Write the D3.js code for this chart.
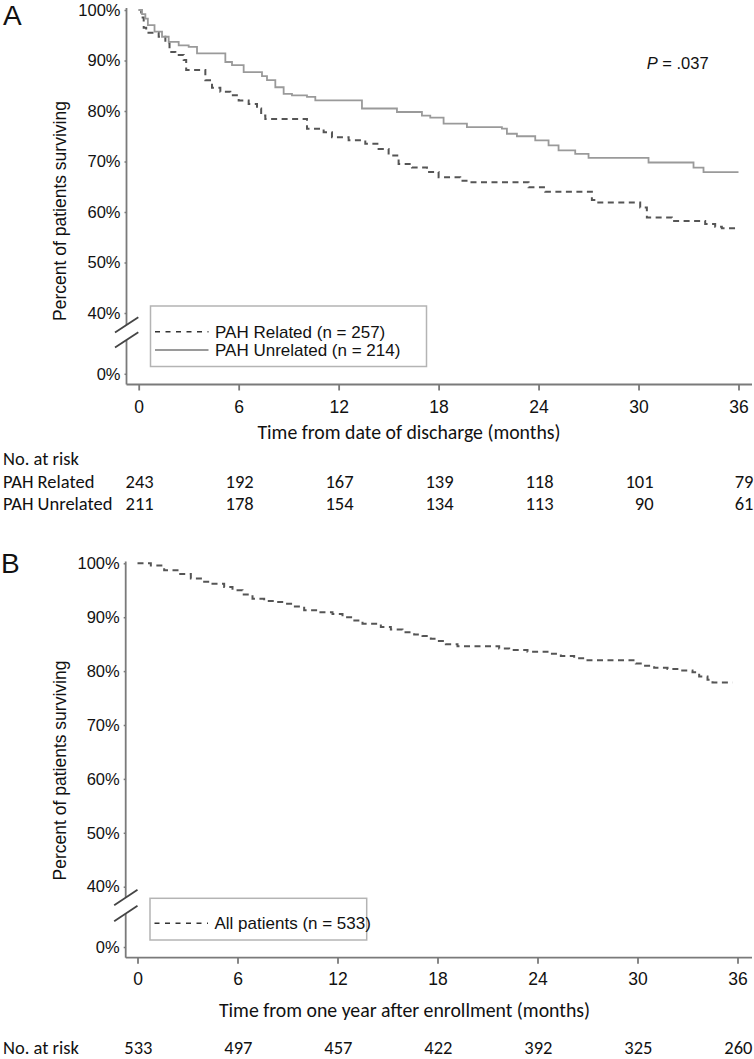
<!DOCTYPE html>
<html>
<head>
<meta charset="utf-8">
<script src="https://cdn.jsdelivr.net/npm/d3@7"></script>
<style>
  html, body { margin: 0; padding: 0; background: #fff; }
  svg { display: block; }
</style>
</head>
<body>
<svg id="chart" width="754" height="1059"></svg>
<script>
// ---------------- DATA ----------------
const monthTicks = [0, 6, 12, 18, 24, 30, 36];
const yTickValues = [0, 40, 50, 60, 70, 80, 90, 100];

// Panel A: PAH related (dashed)
const relatedTimes = [0, 0.15, 0.3, 0.45, 1.2, 1.6, 1.85, 2.2, 2.7, 2.85, 4.0, 4.4, 4.9, 5.5, 6.0, 6.6, 7.1, 7.35, 7.6,
  10.1, 11.1, 11.6, 12.6, 13.6, 14.4, 15.0, 15.6, 16.4, 17.3, 18.0, 19.3, 19.8, 23.4, 24.4, 27.2, 27.5, 30.1, 30.5,
  32.0, 34.0, 34.6, 35.0, 36.0];
const relatedSurv = [100, 98.5, 96.5, 95.5, 94.7, 93.4, 91.7, 91.1, 90.1, 88.1, 86.1, 84.6, 83.8, 83.1, 82.1, 81.4, 80.5, 79.1, 78.4,
  76.5, 75.8, 74.8, 74.2, 73.5, 72.5, 71.2, 69.5, 68.8, 67.9, 66.9, 66.2, 65.9, 64.9, 64.0, 62.4, 61.9, 60.9, 58.9,
  58.2, 57.6, 57.1, 56.8, 56.8];

// Panel A: PAH unrelated (solid)
const unrelatedTimes = [0, 0.2, 0.4, 0.55, 0.95, 1.4, 1.8, 2.4, 3.0, 3.5, 5.2, 5.6, 6.3, 7.4, 7.7, 8.2, 8.7, 9.2, 10.1, 10.6,
  13.4, 15.5, 17.0, 17.5, 18.3, 19.7, 21.8, 22.1, 22.7, 23.8, 24.6, 25.2, 26.2, 27.0, 30.6, 33.3, 33.9, 36.0];
const unrelatedSurv = [100, 99.2, 98.3, 97.0, 95.7, 94.7, 93.7, 93.0, 92.7, 91.4, 89.7, 89.1, 87.7, 86.9, 86.1, 84.7, 83.4, 83.1, 82.8, 82.1,
  80.5, 79.8, 79.1, 78.7, 77.5, 76.8, 76.5, 75.5, 75.0, 74.2, 73.2, 72.2, 71.5, 70.7, 69.8, 68.8, 67.9, 67.9];

// Panel B: all patients (dashed)
const allTimes = [0, 0.8, 1.6, 2.4, 3.2, 4.0, 4.5, 5.2, 5.7, 6.3, 6.9, 7.6, 8.3, 8.8, 9.3, 10.0, 10.8, 11.7, 12.3, 12.9, 13.5,
  14.6, 15.2, 15.9, 16.6, 17.1, 17.6, 17.9, 18.5, 19.2, 21.7, 22.3, 23.4, 24.6, 25.4, 26.2, 27.0, 29.9, 30.3, 31.0,
  31.8, 32.6, 33.3, 33.7, 34.2, 34.5, 35.7];
const allSurv = [100, 99.6, 98.7, 98.0, 97.2, 96.6, 96.2, 95.6, 95.0, 94.2, 93.4, 93.0, 92.8, 92.5, 92.0, 91.3, 90.9, 90.6, 90.0, 89.4, 88.8,
  88.2, 87.7, 87.2, 86.8, 86.5, 86.0, 85.6, 85.0, 84.6, 84.2, 83.9, 83.6, 83.2, 82.8, 82.4, 82.0, 81.4, 81.0, 80.6,
  80.4, 80.1, 79.8, 79.0, 78.4, 77.9, 77.9];

// Numbers at risk
const riskRelated = [243, 192, 167, 139, 118, 101, 79];
const riskUnrelated = [211, 178, 154, 134, 113, 90, 61];
const riskAll = [533, 497, 457, 422, 392, 325, 260];

const riskLabelsA = ["PAH Related", "PAH Unrelated"];
const riskLabelsB = ["No. at risk"];
const legendA = ["PAH Related (n = 257)", "PAH Unrelated (n = 214)"];
const legendB = ["All patients (n = 533)"];
const xTitleA = "Time from date of discharge (months)";
const xTitleB = "Time from one year after enrollment (months)";
const yTitle = "Percent of patients surviving";
const pText = ".037";

// ---------------- STYLE ----------------
const ARIAL = "'Liberation Sans', Arial, sans-serif";
const CALI = "Carlito, Lato, 'Open Sans', sans-serif";
const AXIS_COLOR = "#7a7a7a";
const DASH_COLOR = "#555555";
const SOLID_COLOR = "#9a9a9a";
const DASH = "6,4.5";
const RISK_SIZE = 18.5;

const svg = d3.select("#chart");

function zip(ts, vs) { return ts.map((t, i) => ({ t: t, v: vs[i] })); }

function drawPanel(cfg) {
  const g = svg.append("g");
  const x = d3.scaleLinear().domain([0, 36]).range([cfg.x0, cfg.x1]);
  const y = d3.scaleLinear().domain([0, 40, 100]).range([cfg.y0, cfg.y40, cfg.y100]);

  // y axis (ticks + labels)
  const yAxis = d3.axisLeft(y).tickValues(yTickValues).tickFormat(d => d + "%").tickSize(2).tickPadding(4);
  const ya = g.append("g").attr("transform", `translate(${cfg.axisX},0)`).call(yAxis);
  ya.select(".domain").remove();
  ya.selectAll(".tick line").attr("stroke", AXIS_COLOR).attr("stroke-width", 1.5);
  ya.selectAll(".tick text").attr("font-family", ARIAL).attr("font-size", 16.5).attr("fill", "#111");

  // y axis line with break
  g.append("line").attr("x1", cfg.axisX).attr("x2", cfg.axisX).attr("y1", cfg.yTop).attr("y2", cfg.brk1)
    .attr("stroke", AXIS_COLOR).attr("stroke-width", 1.8);
  g.append("line").attr("x1", cfg.axisX).attr("x2", cfg.axisX).attr("y1", cfg.brk2).attr("y2", cfg.axisY)
    .attr("stroke", AXIS_COLOR).attr("stroke-width", 1.8);
  [cfg.brk1, cfg.brk2].forEach(yc => {
    g.append("line")
      .attr("x1", cfg.axisX - 11.5).attr("y1", yc + 7.6)
      .attr("x2", cfg.axisX + 11.8).attr("y2", yc - 7.8)
      .attr("stroke", "#444").attr("stroke-width", 1.8);
  });

  // x axis
  const xAxis = d3.axisBottom(x).tickValues(monthTicks).tickSize(6).tickPadding(cfg.xPad);
  const xa = g.append("g").attr("transform", `translate(0,${cfg.axisY})`).call(xAxis);
  xa.select(".domain").remove();
  xa.selectAll(".tick line").attr("stroke", AXIS_COLOR).attr("stroke-width", 1.8);
  xa.selectAll(".tick text").attr("font-family", ARIAL).attr("font-size", 17.5).attr("fill", "#111");
  g.append("line").attr("x1", cfg.axisX).attr("x2", 752).attr("y1", cfg.axisY).attr("y2", cfg.axisY)
    .attr("stroke", AXIS_COLOR).attr("stroke-width", 1.8);

  // titles
  g.append("text").attr("transform", `translate(${cfg.yTitleX},${cfg.yTitleY}) rotate(-90)`)
    .attr("text-anchor", "middle").attr("font-family", ARIAL).attr("font-size", 17.5).attr("fill", "#111")
    .text(yTitle);
  g.append("text").attr("x", cfg.xTitleX).attr("y", cfg.xTitleY).attr("dy", "0.35em")
    .attr("text-anchor", "middle").attr("font-family", CALI).attr("font-size", 19.8).attr("fill", "#111")
    .text(cfg.xTitle);

  // panel letter
  g.append("text").attr("x", cfg.letterX).attr("y", cfg.letterY).attr("font-family", ARIAL)
    .attr("font-size", 28).attr("fill", "#111").text(cfg.letter);

  // curves
  const line = d3.line().x(d => x(d.t)).y(d => y(d.v)).curve(d3.curveStepAfter);
  cfg.series.forEach(s => {
    g.append("path").datum(zip(s.times, s.surv)).attr("d", line).attr("fill", "none")
      .attr("stroke", s.dashed ? DASH_COLOR : SOLID_COLOR).attr("stroke-width", s.dashed ? 2 : 1.8)
      .attr("stroke-dasharray", s.dashed ? DASH : null);
  });

  // legend
  const L = cfg.legend;
  g.append("rect").attr("x", L.x).attr("y", L.y).attr("width", L.w).attr("height", L.h)
    .attr("fill", "#fff").attr("stroke", "#b4b4b4").attr("stroke-width", 1.5);
  cfg.series.forEach((s, i) => {
    const ly = L.rowY[i];
    g.append("line").attr("x1", L.x + 4.5).attr("x2", L.x + 58).attr("y1", ly).attr("y2", ly)
      .attr("stroke", s.dashed ? "#333" : SOLID_COLOR).attr("stroke-width", s.dashed ? 1.6 : 1.8)
      .attr("stroke-dasharray", s.dashed ? "5,5.5" : null);
    g.append("text").attr("x", L.x + 64.5).attr("y", ly).attr("dy", "0.36em")
      .attr("font-family", ARIAL).attr("font-size", 17).attr("fill", "#111").text(s.label);
  });

  // risk table
  cfg.risk.forEach(r => {
    if (r.label) {
      g.append("text").attr("x", 3).attr("y", r.y).attr("dy", "0.35em").attr("font-family", CALI)
        .attr("font-size", RISK_SIZE).attr("fill", "#111").text(r.label);
    }
    g.selectAll(null).data(r.values).enter().append("text")
      .attr("x", (d, i) => x(monthTicks[i]) + 15).attr("y", r.y).attr("dy", "0.35em")
      .attr("text-anchor", "end").attr("font-family", CALI).attr("font-size", RISK_SIZE).attr("fill", "#111")
      .text(d => d);
  });
  return { x, y };
}

// Panel A
drawPanel({
  letter: "A", letterX: 3, letterY: 25,
  x0: 138.7, x1: 738.5, axisX: 126.5, axisY: 384.5, yTop: 8,
  y0: 373.8, y40: 313, y100: 10, brk1: 325, brk2: 340, xPad: 10.5,
  yTitleX: 66, yTitleY: 211, xTitle: xTitleA, xTitleX: 409, xTitleY: 432,
  series: [
    { times: relatedTimes, surv: relatedSurv, dashed: true, label: legendA[0] },
    { times: unrelatedTimes, surv: unrelatedSurv, dashed: false, label: legendA[1] }
  ],
  legend: { x: 150.5, y: 306, w: 276, h: 60.5, rowY: [331.7, 350] },
  risk: [
    { label: "No. at risk", y: 458.3, values: [] },
    { label: riskLabelsA[0], y: 481.7, values: riskRelated },
    { label: riskLabelsA[1], y: 503.3, values: riskUnrelated }
  ]
});

// Panel B
drawPanel({
  letter: "B", letterX: 1, letterY: 573.3,
  x0: 137.5, x1: 737.5, axisX: 125.7, axisY: 957.7, yTop: 561.5,
  y0: 947, y40: 886.7, y100: 563.3, brk1: 897.6, brk2: 913.6, xPad: 8.5,
  yTitleX: 66, yTitleY: 770.5, xTitle: xTitleB, xTitleX: 404.5, xTitleY: 1010,
  series: [
    { times: allTimes, surv: allSurv, dashed: true, label: legendB[0] }
  ],
  legend: { x: 150, y: 898.3, w: 216.7, h: 41.7, rowY: [923.3] },
  risk: [
    { label: riskLabelsB[0], y: 1047.5, values: riskAll }
  ]
});

// P value
svg.append("text").attr("x", 646.7).attr("y", 63.3).attr("dy", "0.36em")
  .attr("font-family", ARIAL).attr("font-size", 16.5).attr("fill", "#111")
  .call(t => {
    t.append("tspan").attr("font-style", "italic").text("P");
    t.append("tspan").text(" = " + pText);
  });
</script>
</body>
</html>
